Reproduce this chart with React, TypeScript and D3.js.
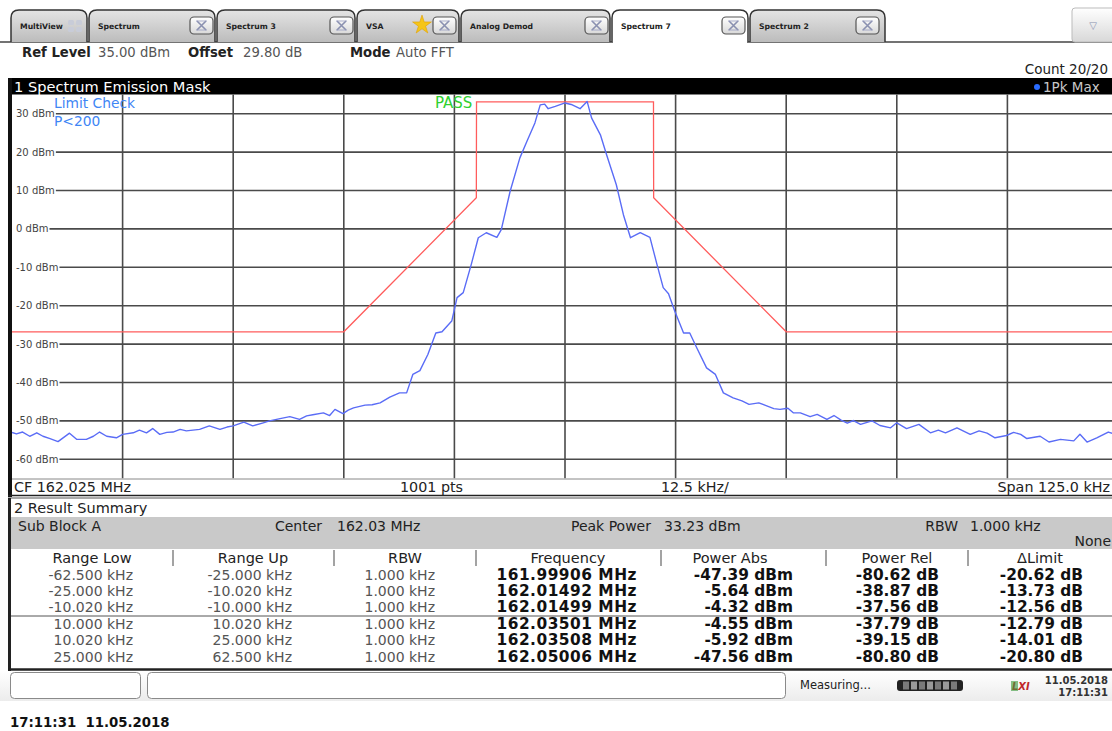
import React, { useEffect, useRef } from "react";
import * as d3 from "d3";

// ---------------- data ----------------
const traceFreqKHz = [
  -62.5, -62.0, -61.3, -60.5, -59.7, -59.0, -58.2, -57.3, -56.0, -55.2, -54.1, -53.3, -52.6, -51.8, -50.7,
  -50.0, -48.8, -48.1, -47.3, -46.6, -45.8, -45.0, -44.3, -43.5, -42.8, -41.3, -40.2, -39.0, -38.2, -37.5,
  -36.3, -35.3, -34.1, -33.4, -32.2, -31.1, -30.0, -29.2, -28.5, -27.3, -26.6, -26.0, -25.1, -24.5, -23.9,
  -22.6, -21.8, -20.9, -19.8, -18.7, -17.9, -17.2, -16.4, -15.5, -14.6, -13.9, -12.8, -12.2, -11.5, -10.6,
  -9.8, -8.9, -7.7, -7.2, -6.2, -5.1, -4.3, -3.4, -2.8, -2.3, -1.9, -1.1, 0.0, 0.7, 1.7, 2.5, 3.0, 4.0, 4.7,
  5.8, 6.6, 7.4, 8.5, 9.6, 10.4, 11.1, 11.7, 12.4, 13.4, 14.1, 14.9, 16.0, 17.0, 17.9, 19.0, 20.0, 20.8,
  21.9, 22.8, 23.6, 24.3, 25.2, 25.8, 26.6, 27.7, 28.5, 29.6, 30.4, 31.2, 31.9, 32.6, 33.4, 34.7, 35.6, 36.8,
  37.5, 38.6, 40.0, 41.3, 42.2, 43.0, 44.3, 45.8, 46.8, 47.7, 48.6, 49.9, 50.7, 51.5, 52.2, 53.7, 54.7, 56.0,
  57.5, 58.2, 59.0, 60.1, 61.4, 62.5,
];
const traceLevelDbm = [
  -53.0, -53.4, -52.9, -54.0, -53.1, -54.0, -54.6, -55.4, -53.2, -54.8, -54.8, -54.0, -52.9, -54.0, -54.4,
  -53.5, -53.1, -52.4, -53.1, -52.0, -53.5, -53.0, -52.9, -52.2, -52.6, -52.2, -51.3, -52.2, -51.6, -51.3,
  -50.3, -51.3, -50.5, -50.0, -49.4, -48.9, -49.6, -48.7, -48.4, -47.9, -48.6, -47.0, -48.1, -47.2, -46.6,
  -45.9, -45.8, -45.3, -43.8, -42.7, -42.7, -37.9, -36.9, -32.7, -27.1, -26.8, -24.0, -17.9, -16.6, -9.3,
  -2.3, -1.0, -2.2, -0.2, 9.8, 18.5, 22.8, 27.6, 32.3, 32.5, 31.3, 31.9, 32.8, 32.4, 31.3, 33.2, 28.9, 24.5, 19.3,
  11.5, 3.7, -2.3, -1.0, -2.2, -9.3, -15.3, -16.9, -21.4, -27.1, -27.1, -31.0, -36.2, -37.9, -42.7, -44.0, -44.8, -45.7,
  -45.3, -46.1, -46.8, -47.0, -46.7, -47.9, -47.9, -48.9, -48.3, -49.6, -48.6, -49.8, -50.6, -49.9, -50.9, -50.0, -51.2, -51.8,
  -50.5, -52.0, -50.9, -53.1, -52.4, -53.1, -51.8, -53.5, -52.6, -53.2, -54.4, -53.8, -53.0, -53.5, -54.6, -54.0, -55.5, -54.8,
  -55.2, -53.5, -55.5, -54.4, -52.9, -53.8,
];
const maskFreqKHz = [-62.5, -25, -10.02, -10.0, 10.0, 10.02, 25, 62.5];
const maskLevelDbm = [-26.8, -26.8, 8.1, 33.1, 33.1, 8.1, -26.8, -26.8];
const levelTicksDbm = [30, 20, 10, 0, -10, -20, -30, -40, -50, -60];
const freqGridKHz = [-50, -37.5, -25, -12.5, 0, 12.5, 25, 37.5, 50];

const tabLabels = ["MultiView", "Spectrum", "Spectrum 3", "VSA", "Analog Demod", "Spectrum 7", "Spectrum 2"];
const colHeaders = ["Range Low", "Range Up", "RBW", "Frequency", "Power Abs", "Power Rel", "ΔLimit"];
const rangeLow = ["-62.500 kHz", "-25.000 kHz", "-10.020 kHz", "10.000 kHz", "10.020 kHz", "25.000 kHz"];
const rangeUp = ["-25.000 kHz", "-10.020 kHz", "-10.000 kHz", "10.020 kHz", "25.000 kHz", "62.500 kHz"];
const rbwCol = ["1.000 kHz", "1.000 kHz", "1.000 kHz", "1.000 kHz", "1.000 kHz", "1.000 kHz"];
const freqCol = ["161.99906 MHz", "162.01492 MHz", "162.01499 MHz", "162.03501 MHz", "162.03508 MHz", "162.05006 MHz"];
const powerAbs = ["-47.39 dBm", "-5.64 dBm", "-4.32 dBm", "-4.55 dBm", "-5.92 dBm", "-47.56 dBm"];
const powerRel = ["-80.62 dB", "-38.87 dB", "-37.56 dB", "-37.79 dB", "-39.15 dB", "-80.80 dB"];
const deltaLimit = ["-20.62 dB", "-13.73 dB", "-12.56 dB", "-12.79 dB", "-14.01 dB", "-20.80 dB"];

// ---------------- layout ----------------
const W = 1112;
const H = 731;
const FONT = "'DejaVu Sans', Verdana, sans-serif";
const PL = { left: 12, right: 1118, top: 94.5, bottom: 478.5 };
const tabGeom = [
  { x0: 11, x1: 87, close: null, active: false },
  { x0: 89, x1: 215, close: 190, active: false },
  { x0: 217, x1: 355, close: 330, active: false },
  { x0: 357, x1: 459, close: 433, active: false },
  { x0: 461, x1: 610, close: 585, active: false },
  { x0: 612, x1: 748, close: 722, active: true },
  { x0: 750, x1: 885, close: 856, active: false },
];
const colHeadX = [92, 253, 405, 568, 730, 897, 1040];
const colRightX = [133, 292, 435, 637, 793, 939, 1083];
const colSepX = [173, 334, 476, 661, 826, 968];
const rowY = [575, 591, 607, 624, 640, 657];

function tabPath(x0: number, x1: number) {
  const top = 10, bot = 42, r = 8;
  return `M${x0},${bot} L${x0},${top + r} Q${x0},${top} ${x0 + r},${top} L${x1 - r},${top} Q${x1},${top} ${x1},${top + r} L${x1},${bot}`;
}

export default function App() {
  const plotRef = useRef<SVGGElement>(null);

  useEffect(() => {
    const g = d3.select(plotRef.current);
    g.selectAll("*").remove();
    const x = d3.scaleLinear().domain([-62.5, 62.5]).range([PL.left, PL.right]);
    const y = d3.scaleLinear().domain([-65, 35]).range([PL.bottom, PL.top]);

    g.append("rect").attr("x", PL.left).attr("y", PL.top).attr("width", PL.right - PL.left)
      .attr("height", PL.bottom - PL.top).attr("fill", "#fff");

    const grid = g.append("g");
    // vertical grid
    grid.selectAll("line.vg").data(freqGridKHz).join("line").attr("class", "vg")
      .attr("x1", (d) => x(d)).attr("x2", (d) => x(d))
      .attr("y1", PL.top).attr("y2", PL.bottom)
      .attr("stroke", "#4a4a4a").attr("stroke-width", 1.6);

    // horizontal grid with labels
    const lab = g.append("g");
    levelTicksDbm.forEach((v) => {
      const t = lab.append("text").attr("x", 16).attr("y", y(v)).attr("dy", "0.35em")
        .attr("font-family", FONT).attr("font-size", 10).attr("fill", "#444").text(`${v} dBm`);
      const w = (t.node() as SVGTextElement).getComputedTextLength();
      grid.append("line")
        .attr("x1", 16 + w + 1).attr("x2", PL.right)
        .attr("y1", y(v)).attr("y2", y(v))
        .attr("stroke", "#4a4a4a").attr("stroke-width", 1.6);
    });

    const clipId = "plotclip";
    g.append("clipPath").attr("id", clipId).append("rect")
      .attr("x", PL.left).attr("y", PL.top - 2).attr("width", PL.right - PL.left).attr("height", PL.bottom - PL.top + 2);

    const line = d3.line<[number, number]>().x((d) => x(d[0])).y((d) => y(d[1]));
    const mask = maskFreqKHz.map((f, i) => [f, maskLevelDbm[i]] as [number, number]);
    g.append("path").attr("d", line(mask)!).attr("fill", "none").attr("stroke", "#ff5c5c")
      .attr("stroke-width", 1.3).attr("clip-path", `url(#${clipId})`);

    const trace = traceFreqKHz.map((f, i) => [f, traceLevelDbm[i]] as [number, number]);
    g.append("path").attr("d", line(trace)!).attr("fill", "none").attr("stroke", "#5a6cf6")
      .attr("stroke-width", 1.4).attr("stroke-linejoin", "round").attr("clip-path", `url(#${clipId})`);

    lab.raise();
    g.append("text").attr("x", 54).attr("y", 103).attr("dy", "0.35em").attr("font-family", FONT)
      .attr("font-size", 13.8).attr("fill", "#3f86f5").text("Limit Check");
    g.append("text").attr("x", 54).attr("y", 121).attr("dy", "0.35em").attr("font-family", FONT)
      .attr("font-size", 13.8).attr("fill", "#3f86f5").text("P<200");
    g.append("text").attr("x", 435).attr("y", 103).attr("dy", "0.35em").attr("font-family", FONT)
      .attr("font-size", 15).attr("fill", "#2fd02f").text("PASS");
  }, []);

  const txt = (props: any, s: string) => (
    <text fontFamily={FONT} dominantBaseline="central" {...props}>{s}</text>
  );

  return (
    <svg width={W} height={H} style={{ position: "absolute", left: 0, top: 0, background: "#fff" }}>
      <defs>
        <linearGradient id="tabg" x1="0" y1="0" x2="0" y2="1">
          <stop offset="0" stopColor="#e4e4e4" />
          <stop offset="1" stopColor="#bcbcbc" />
        </linearGradient>
        <linearGradient id="btn" x1="0" y1="0" x2="0" y2="1">
          <stop offset="0" stopColor="#ffffff" />
          <stop offset="1" stopColor="#d8d8d8" />
        </linearGradient>
        <linearGradient id="stat" x1="0" y1="0" x2="0" y2="1">
          <stop offset="0" stopColor="#ffffff" />
          <stop offset="1" stopColor="#ececec" />
        </linearGradient>
      </defs>
      <rect x={0} y={0} width={W} height={H} fill="#fff" />

      {/* tab strip */}
      <line x1={0} x2={W} y1={42} y2={42} stroke="#444" strokeWidth={1.5} />
      {tabGeom.map((t, i) => (
        <g key={i}>
          <path d={tabPath(t.x0, t.x1) + " Z"} fill={t.active ? "#fff" : "url(#tabg)"} stroke="none" />
          <path d={tabPath(t.x0, t.x1)} fill="none" stroke="#333" strokeWidth={1.5} />
          {t.active && <line x1={t.x0 + 1} x2={t.x1 - 1} y1={42} y2={42} stroke="#fff" strokeWidth={2} />}
          {txt({ x: t.x0 + 9, y: 26, fontSize: 7.7, fontWeight: "bold", fill: "#222" }, tabLabels[i])}
          {t.close !== null && (
            <g>
              <rect x={t.close} y={17} width={23} height={17} rx={4} fill="url(#btn)" stroke="#555" strokeWidth={1.2} />
              <path d={`M${t.close + 7},${21} L${t.close + 16},${30} M${t.close + 16},${21} L${t.close + 7},${30}`}
                stroke="#8a90b0" strokeWidth={1.6} />
              <path d={`M${t.close + 6},${21} L${t.close + 17},${21} M${t.close + 6},${30} L${t.close + 17},${30}`}
                stroke="#9aa0c0" strokeWidth={0.8} />
            </g>
          )}
        </g>
      ))}
      {/* multiview icon */}
      <g fill="#c8ccd8">
        <rect x={68} y={20} width={6} height={5} rx={1.5} />
        <rect x={76} y={20} width={6} height={5} rx={1.5} />
        <rect x={68} y={27} width={6} height={5} rx={1.5} />
        <rect x={76} y={27} width={6} height={5} rx={1.5} />
      </g>
      {/* VSA star */}
      <path d={d3.symbol().type(d3.symbolStar).size(110)()!} transform="translate(422,25)" fill="#f5c518" stroke="#e0a000" strokeWidth={0.6} />
      {/* dropdown */}
      <rect x={1072} y={8} width={44} height={34} rx={3} fill="url(#btn)" stroke="#bbb" strokeWidth={1} />
      {txt({ x: 1093, y: 25, fontSize: 10, fill: "#8890b0", textAnchor: "middle" }, "▽")}

      {/* info line */}
      {txt({ x: 22, y: 52, fontSize: 13.2, fontWeight: "bold", fill: "#222" }, "Ref Level")}
      {txt({ x: 98, y: 52, fontSize: 13.2, fill: "#555" }, "35.00 dBm")}
      {txt({ x: 188, y: 52, fontSize: 13.2, fontWeight: "bold", fill: "#222" }, "Offset")}
      {txt({ x: 243, y: 52, fontSize: 13.2, fill: "#555" }, "29.80 dB")}
      {txt({ x: 350, y: 52, fontSize: 13.2, fontWeight: "bold", fill: "#222" }, "Mode")}
      {txt({ x: 396, y: 52, fontSize: 13.2, fill: "#555" }, "Auto FFT")}
      {txt({ x: 1108, y: 69, fontSize: 13.5, fill: "#222", textAnchor: "end" }, "Count 20/20")}

      {/* panel 1 */}
      <rect x={9} y={78} width={1110} height={17} fill="#000" />
      {txt({ x: 14, y: 86.5, fontSize: 14.6, fill: "#fff" }, "1 Spectrum Emission Mask")}
      <circle cx={1037} cy={87} r={3} fill="#2a6cff" />
      {txt({ x: 1043, y: 86.5, fontSize: 13.5, fill: "#c8c8c8" }, "1Pk Max")}
      <g ref={plotRef} />
      <rect x={8} y={78} width={4} height={419} fill="#111" />
      <rect x={12} y={478.5} width={1106} height={16.5} fill="#fff" />
      <line x1={12} x2={W} y1={479} y2={479} stroke="#888" strokeWidth={1} />
      {txt({ x: 14, y: 487, fontSize: 14.3, fill: "#222" }, "CF 162.025 MHz")}
      {txt({ x: 400, y: 487, fontSize: 14.3, fill: "#222" }, "1001 pts")}
      {txt({ x: 661, y: 487, fontSize: 14.3, fill: "#222" }, "12.5 kHz/")}
      {txt({ x: 1110, y: 487, fontSize: 14.3, fill: "#222", textAnchor: "end" }, "Span 125.0 kHz")}
      <line x1={8} x2={W} y1={495.5} y2={495.5} stroke="#222" strokeWidth={1.5} />
      <line x1={8} x2={W} y1={498} y2={498} stroke="#555" strokeWidth={1.2} />

      {/* panel 2 */}
      <rect x={8} y={498} width={3} height={173} fill="#222" />
      {txt({ x: 14, y: 508, fontSize: 14.5, fill: "#222" }, "2 Result Summary")}
      <rect x={11} y={517} width={1101} height={32} fill="#c9c9c9" />
      {txt({ x: 18, y: 525.5, fontSize: 14, fill: "#222" }, "Sub Block A")}
      {txt({ x: 322, y: 525.5, fontSize: 14, fill: "#222", textAnchor: "end" }, "Center")}
      {txt({ x: 337, y: 525.5, fontSize: 14, fill: "#222" }, "162.03 MHz")}
      {txt({ x: 651, y: 525.5, fontSize: 14, fill: "#222", textAnchor: "end" }, "Peak Power")}
      {txt({ x: 664, y: 525.5, fontSize: 14, fill: "#222" }, "33.23 dBm")}
      {txt({ x: 958, y: 525.5, fontSize: 14, fill: "#222", textAnchor: "end" }, "RBW")}
      {txt({ x: 970, y: 525.5, fontSize: 14, fill: "#222" }, "1.000 kHz")}
      {txt({ x: 1111, y: 541, fontSize: 14, fill: "#222", textAnchor: "end" }, "None")}
      {colHeaders.map((h, i) => (
        <g key={h}>{txt({ x: colHeadX[i], y: 558, fontSize: 14.5, fill: "#222", textAnchor: "middle" }, h)}</g>
      ))}
      {colSepX.map((sx) => (
        <line key={sx} x1={sx} x2={sx} y1={550} y2={566} stroke="#666" strokeWidth={1.2} />
      ))}
      <line x1={11} x2={W} y1={616} y2={616} stroke="#555" strokeWidth={1} />
      {rowY.map((ry, r) => (
        <g key={r}>
          {txt({ x: colRightX[0], y: ry, fontSize: 14, fill: "#555", textAnchor: "end" }, rangeLow[r])}
          {txt({ x: colRightX[1], y: ry, fontSize: 14, fill: "#555", textAnchor: "end" }, rangeUp[r])}
          {txt({ x: colRightX[2], y: ry, fontSize: 14, fill: "#555", textAnchor: "end" }, rbwCol[r])}
          {txt({ x: colRightX[3], y: ry, fontSize: 15.4, fontWeight: "bold", fill: "#111", textAnchor: "end", letterSpacing: 0.5 }, freqCol[r])}
          {txt({ x: colRightX[4], y: ry, fontSize: 15.4, fontWeight: "bold", fill: "#111", textAnchor: "end" }, powerAbs[r])}
          {txt({ x: colRightX[5], y: ry, fontSize: 15.4, fontWeight: "bold", fill: "#111", textAnchor: "end" }, powerRel[r])}
          {txt({ x: colRightX[6], y: ry, fontSize: 15.4, fontWeight: "bold", fill: "#111", textAnchor: "end" }, deltaLimit[r])}
        </g>
      ))}
      <line x1={8} x2={W} y1={669.5} y2={669.5} stroke="#222" strokeWidth={2.5} />

      {/* status bar */}
      <rect x={0} y={671} width={W} height={30} fill="url(#stat)" />
      <rect x={10.5} y={672.5} width={130} height={26} rx={4} fill="#fff" stroke="#8a8a8a" />
      <rect x={147.5} y={672.5} width={638} height={26} rx={4} fill="#fff" stroke="#8a8a8a" />
      {txt({ x: 800, y: 685, fontSize: 11.5, fill: "#222" }, "Measuring...")}
      <rect x={897} y={680} width={66} height={11} rx={3} fill="#222" />
      {[0, 1, 2, 3, 4, 5, 6].map((k) => (
        <rect key={k} x={903 + k * 8} y={681.5} width={6} height={8} fill={k % 2 ? "#9a9a9a" : "#7a7a7a"} />
      ))}
      {txt({ x: 1012, y: 686, fontSize: 10, fontWeight: "bold", fontStyle: "italic", fill: "#c0282a" }, "LXI")}
      <rect x={1011} y={681} width={7} height={10} fill="#3a9a3a" opacity={0.6} />
      {txt({ x: 1108, y: 680, fontSize: 10, fontWeight: "bold", fill: "#333", textAnchor: "end" }, "11.05.2018")}
      {txt({ x: 1108, y: 692.5, fontSize: 10, fontWeight: "bold", fill: "#333", textAnchor: "end" }, "17:11:31")}

      {/* footer */}
      <text x={10} y={722} fontFamily={FONT} fontSize={13.3} fontWeight="bold" fill="#111" dominantBaseline="central"
        style={{ whiteSpace: "pre" }}>{"17:11:31  11.05.2018"}</text>
    </svg>
  );
}
